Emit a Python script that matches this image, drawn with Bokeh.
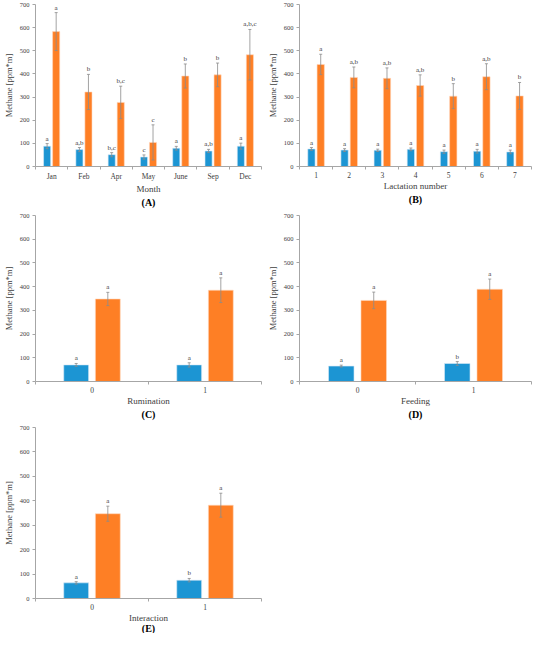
import numpy as np
from bokeh.plotting import figure
from bokeh.models import Range1d, FixedTicker, Title, ColumnDataSource
from bokeh.transform import dodge
from bokeh.layouts import column, row
from bokeh.embed import file_html
from bokeh.resources import INLINE

# ---------------- data ----------------
months = ["Jan", "Feb", "Apr", "May", "June", "Sep", "Dec"]
a_blue = [88, 73, 51, 41, 79, 67, 88]
a_blue_err = [11, 9, 9, 9, 8, 7, 13]
a_orange = [583, 322, 277, 104, 391, 396, 483]
a_orange_err = [82, 76, 70, 76, 52, 51, 109]
a_blue_lbl = ["a", "a,b", "b,c", "c", "a", "a,b", "a"]
a_orange_lbl = ["a", "b", "b,c", "c", "b", "b", "a,b,c"]

lactation = ["1", "2", "3", "4", "5", "6", "7"]
b_blue = [76, 71, 70, 74, 64, 66, 63]
b_blue_err = [6, 6, 5, 6, 7, 8, 8]
b_orange = [441, 385, 381, 350, 304, 388, 305]
b_orange_err = [44, 45, 45, 46, 54, 56, 58]
b_blue_lbl = ["a", "a", "a", "a", "a", "a", "a"]
b_orange_lbl = ["a", "a,b", "a,b", "a,b", "b", "a,b", "b"]

binary = ["0", "1"]
c_blue = [70, 70]
c_blue_err = [6, 9]
c_orange = [348, 385]
c_orange_err = [28, 52]
c_blue_lbl = ["a", "a"]
c_orange_lbl = ["a", "a"]

d_blue = [65, 76]
d_blue_err = [4, 8]
d_orange = [342, 389]
d_orange_err = [35, 43]
d_blue_lbl = ["a", "b"]
d_orange_lbl = ["a", "a"]

e_blue = [64, 75]
e_blue_err = [5, 7]
e_orange = [347, 382]
e_orange_err = [31, 49]
e_blue_lbl = ["a", "b"]
e_orange_lbl = ["a", "a"]

y_ticks = [0, 100, 200, 300, 400, 500, 600, 700]

BLUE = "#1C95D3"
ORANGE = "#FE7F25"
FONT = "Liberation Serif"


def panel(cats, blue, blue_err, orange, orange_err, blue_lbl, orange_lbl,
          xlabel, tag, width, height, left_border=2, tag_gap=4):
    n = len(cats)
    pos = np.arange(n) + 0.5
    p = figure(width=width, height=height, output_backend="svg",
               toolbar_location=None, x_range=Range1d(0, n),
               y_range=Range1d(0, 700), min_border_top=4,
               min_border_left=left_border, min_border_right=3,
               min_border_bottom=0)
    p.outline_line_color = None
    p.xgrid.visible = False
    p.ygrid.visible = False

    for vals, errs, lbls, off, col, edge in (
            (blue, blue_err, blue_lbl, -0.14, BLUE, "#D9EAF6"),
            (orange, orange_err, orange_lbl, 0.14, ORANGE, "#FFD9BF")):
        v = np.array(vals, dtype=float)
        e = np.array(errs, dtype=float)
        src = ColumnDataSource(dict(pos=pos, top=v, up=v + e, lo=v - e,
                                    lbl=lbls))
        p.vbar(x=dodge("pos", off), top="top", bottom=0, width=0.22,
               source=src, fill_color=col, line_color=edge, line_width=0.6)
        p.segment(x0=dodge("pos", off), x1=dodge("pos", off), y0="lo", y1="up",
                  source=src, line_color="#8C8C8C", line_width=0.8)
        p.scatter(x=dodge("pos", off), y="up", marker="dash", size=3,
                  source=src, line_color="#8C8C8C", line_width=0.8)
        p.scatter(x=dodge("pos", off), y="lo", marker="dash", size=3,
                  source=src, line_color="#8C8C8C", line_width=0.8)
        p.text(x=dodge("pos", off), y="up", text="lbl", source=src,
               text_align="center", text_baseline="bottom", y_offset=-1,
               text_font_size="7px", text_color="#404040",
               text_font={"value": FONT})

    # x axis: labels at centres, tick marks at category boundaries
    p.xaxis.ticker = FixedTicker(ticks=list(pos), minor_ticks=list(range(n + 1)))
    p.xaxis.major_label_overrides = {float(x): c for x, c in zip(pos, cats)}
    p.xaxis.major_tick_line_color = None
    p.xaxis.major_tick_out = 0
    p.xaxis.major_tick_in = 0
    p.xaxis.minor_tick_out = 3
    p.xaxis.minor_tick_in = 0
    p.xaxis.minor_tick_line_color = "#A6A6A6"
    p.xaxis.axis_line_color = "#A6A6A6"
    p.xaxis.major_label_text_font = FONT
    p.xaxis.major_label_text_font_size = "7.5px"
    p.xaxis.major_label_text_color = "#404040"
    p.xaxis.major_label_standoff = 2

    p.yaxis.ticker = FixedTicker(ticks=y_ticks)
    p.yaxis.minor_tick_line_color = None
    p.yaxis.minor_tick_out = 0
    p.yaxis.minor_tick_in = 0
    p.yaxis.major_tick_out = 3
    p.yaxis.major_tick_in = 0
    p.yaxis.major_tick_line_color = "#A6A6A6"
    p.yaxis.axis_line_color = "#A6A6A6"
    p.yaxis.major_label_text_font = FONT
    p.yaxis.major_label_text_font_size = "6.5px"
    p.yaxis.major_label_text_color = "#404040"
    p.yaxis.major_label_standoff = 3
    p.yaxis.axis_label = "Methane [ppm*m]"
    p.yaxis.axis_label_text_font = FONT
    p.yaxis.axis_label_text_font_size = "8.5px"
    p.yaxis.axis_label_text_font_style = "normal"
    p.yaxis.axis_label_text_color = "#404040"
    p.yaxis.axis_label_standoff = 3

    p.add_layout(Title(text=xlabel, align="center", text_font=FONT,
                       text_font_size="9px", text_font_style="normal",
                       text_color="#404040", standoff=-4, offset=0), "below")
    p.add_layout(Title(text=tag, align="center", text_font=FONT,
                       text_font_size="10px", text_font_style="bold",
                       text_color="#000000", standoff=tag_gap, offset=0), "below")
    return p


pa = panel(months, a_blue, a_blue_err, a_orange, a_orange_err, a_blue_lbl,
           a_orange_lbl, "Month", "(A)", 264, 211, tag_gap=7)
pb = panel(lactation, b_blue, b_blue_err, b_orange, b_orange_err, b_blue_lbl,
           b_orange_lbl, "Lactation number", "(B)", 270, 211, left_border=10,
           tag_gap=7)
pc = panel(binary, c_blue, c_blue_err, c_orange, c_orange_err, c_blue_lbl,
           c_orange_lbl, "Rumination", "(C)", 264, 212, tag_gap=7)
pd = panel(binary, d_blue, d_blue_err, d_orange, d_orange_err, d_blue_lbl,
           d_orange_lbl, "Feeding", "(D)", 270, 212, left_border=10, tag_gap=7)
pe = panel(binary, e_blue, e_blue_err, e_orange, e_orange_err, e_blue_lbl,
           e_orange_lbl, "Interaction", "(E)", 264, 210, tag_gap=0)

layout = column(row(pa, pb), row(pc, pd), pe)
open("out.html", "w").write(file_html(layout, INLINE))
